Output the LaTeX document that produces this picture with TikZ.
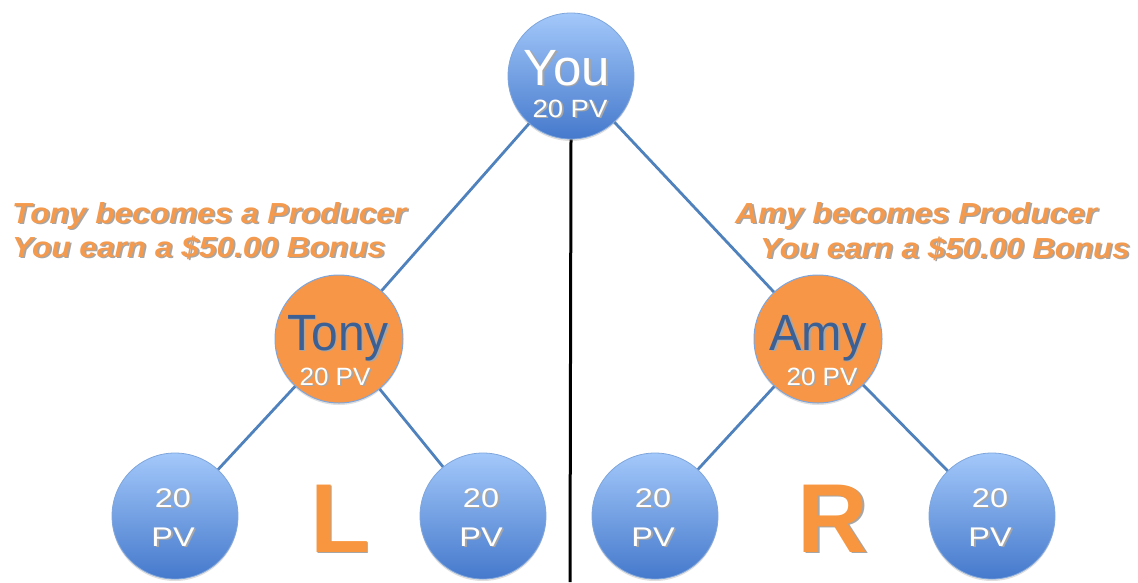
\documentclass[tikz,border=0pt]{standalone}
\usepackage{fontspec}
\setmainfont{Liberation Sans}
\usetikzlibrary{shadows,backgrounds}
\definecolor{lineblue}{HTML}{4F81BD}
\definecolor{circtop}{HTML}{A3C8FA}
\definecolor{circbot}{HTML}{4579CC}
\definecolor{circedge}{HTML}{7FA6DC}
\definecolor{orfill}{HTML}{F79646}
\definecolor{ortext}{HTML}{F39A4E}
\definecolor{letcol}{HTML}{F7963F}
\definecolor{darkname}{HTML}{3C5F94}
\newcommand{\shtx}[2]{\makebox[0pt][l]{\hspace{1.6pt}\raisebox{-1.6pt}{\color{black!35}#2}}{\color{#1}#2}}
\newcommand{\wtx}[3]{\scalebox{#1}[1]{\shtx{#2}{#3}}}
\begin{document}
\begin{tikzpicture}[x=1pt,y=-1pt,
  bluecirc/.style={circle,minimum size=126pt,inner sep=0pt,top color=circtop,bottom color=circbot,draw=circedge,line width=0.8pt,
    drop shadow={shadow xshift=0pt,shadow yshift=-2pt,opacity=0.25}},
  orcirc/.style={circle,minimum size=128pt,inner sep=0pt,fill=orfill,draw=circedge,line width=1pt,
    drop shadow={shadow xshift=0pt,shadow yshift=-2pt,opacity=0.25}},
  conn/.style={draw=lineblue,line width=2.8pt},
  note/.style={font=\fontsize{29}{34}\selectfont\bfseries\itshape,inner sep=0pt},
  bigletter/.style={font=\fontsize{98}{100}\selectfont\bfseries,inner sep=0pt},
  ctext/.style={inner sep=0pt,anchor=base}
]
\useasboundingbox (0,0) rectangle (1138,582);
% circles
\node[bluecirc] (you) at (571,76) {};
\node[orcirc] (tony) at (339,339) {};
\node[orcirc] (amy) at (818,339) {};
\node[bluecirc] (l1) at (175,516) {};
\node[bluecirc] (l2) at (483,516) {};
\node[bluecirc] (r1) at (655,516) {};
\node[bluecirc] (r2) at (992,516) {};
% circle texts
\node[ctext,font=\fontsize{51}{55}\selectfont] (youname) at (567,85) {\shtx{white}{You}};
\node[ctext,font=\fontsize{25}{28}\selectfont] (youpv) at (570,117) {\wtx{1.1}{white}{20 PV}};
\node[ctext,font=\fontsize{51}{55}\selectfont] (tonyname) at (338,350) {\wtx{0.94}{darkname}{Tony}};
\node[ctext,font=\fontsize{25}{28}\selectfont] (tonypv) at (335,385) {\wtx{1.04}{white}{20 PV}};
\node[ctext,font=\fontsize{51}{55}\selectfont] (amyname) at (818,350) {\wtx{0.95}{darkname}{Amy}};
\node[ctext,font=\fontsize{25}{28}\selectfont] (amypv) at (822,385) {\wtx{1.04}{white}{20 PV}};
\foreach \n in {l1,l2,r1,r2}{
  \node[ctext,font=\fontsize{27}{28}\selectfont] (\n a) at ([xshift=-2pt,yshift=9pt]\n.center) {\wtx{1.2}{white}{20}};
  \node[ctext,font=\fontsize{27}{28}\selectfont] (\n b) at ([xshift=-2pt,yshift=-30pt]\n.center) {\wtx{1.2}{white}{PV}};
}
% letters
\node[bigletter,anchor=base] (letL) at (340,552) {\shtx{letcol}{L}};
\node[bigletter,anchor=base] (letR) at (833,552) {\shtx{letcol}{R}};
% notes
\node[note,anchor=base west] (n1) at (12,223) {\wtx{1.09}{ortext}{Tony becomes a Producer}};
\node[note,anchor=base west] (n2) at (12,257) {\wtx{1.09}{ortext}{You earn a \$50.00 Bonus}};
\node[note,anchor=base west] (n3) at (735,223) {\wtx{1.09}{ortext}{Amy becomes Producer}};
\node[note,anchor=base west] (n4) at (760,258) {\wtx{1.08}{ortext}{You earn a \$50.00 Bonus}};
% connectors
\coordinate (bottom) at (570,582);
\begin{pgfonlayer}{background}
\draw[conn] (you.center) -- (tony.center);
\draw[conn] (you.center) -- (amy.center);
\draw[conn] (tony.center) -- (l1.center);
\draw[conn] (tony.center) -- (l2.center);
\draw[conn] (amy.center) -- (r1.center);
\draw[conn] (amy.center) -- (r2.center);
\draw[black,line width=3pt] (you.south) -- (bottom);
\end{pgfonlayer}
\end{tikzpicture}
\end{document}
